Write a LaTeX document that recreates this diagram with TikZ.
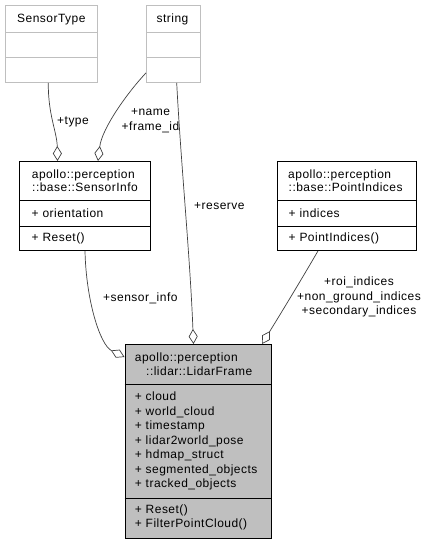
\documentclass[tikz,border=0pt]{standalone}
\usepackage{fontspec}
\setmainfont{Liberation Sans}[LetterSpace=4]
\usetikzlibrary{arrows.meta}
\definecolor{edgegray}{HTML}{404040}
\definecolor{boxgray}{HTML}{BFBFBF}
\tikzset{
  umlbox/.style={draw=black, line width=0.9pt, fill=white, inner sep=0pt, anchor=north west},
  ghostbox/.style={draw=boxgray, line width=0.9pt, fill=white, inner sep=0pt, anchor=north west},
  divider/.style={draw=black, line width=0.9pt},
  ghostdiv/.style={draw=boxgray, line width=0.9pt},
  txt/.style={anchor=base west, inner sep=0pt, font=\fontsize{12}{14.5}\selectfont},
  ctxt/.style={anchor=base, inner sep=0pt, font=\fontsize{12}{14.5}\selectfont},
  lbl/.style={anchor=center, align=center, inner sep=0pt, font=\fontsize{12}{14.5}\selectfont},
  assoc/.style={draw=edgegray, line width=0.7pt, -{Diamond[fill=white,length=15pt,width=9pt,line width=0.7pt]}}
}
\begin{document}
\begin{tikzpicture}[x=1pt,y=-1pt]
\useasboundingbox (0,0) rectangle (427,544);

% ghost classes
\node[ghostbox, minimum width=92, minimum height=77] (st) at (5,5) {};
\draw[ghostdiv] (st.west |- 0,32) -- (st.east |- 0,32);
\draw[ghostdiv] (st.west |- 0,57) -- (st.east |- 0,57);
\node[ctxt] (stname) at (51.3,22.5) {SensorType};

\node[ghostbox, minimum width=54, minimum height=77] (str) at (146,5) {};
\draw[ghostdiv] (str.west |- 0,32) -- (str.east |- 0,32);
\draw[ghostdiv] (str.west |- 0,57) -- (str.east |- 0,57);
\node[ctxt] (strname) at (172.5,22.5) {string};

% SensorInfo
\node[umlbox, minimum width=131, minimum height=89] (si) at (19,161) {};
\draw[divider] (si.west |- 0,200.5) -- (si.east |- 0,200.5);
\draw[divider] (si.west |- 0,226) -- (si.east |- 0,226);
\node[txt] (si1) at (31.7,178) {apollo::perception};
\node[txt] (si2) at (32,191.5) {::base::SensorInfo};
\node[txt] (si3) at (31.5,217.5) {+ orientation};
\node[txt] (si4) at (31.5,241.5) {+ Reset()};

% PointIndices
\node[umlbox, minimum width=139, minimum height=89] (pi) at (277,161) {};
\draw[divider] (pi.west |- 0,200.5) -- (pi.east |- 0,200.5);
\draw[divider] (pi.west |- 0,226) -- (pi.east |- 0,226);
\node[txt] (pi1) at (288,178) {apollo::perception};
\node[txt] (pi2) at (288.5,191.5) {::base::PointIndices};
\node[txt] (pi3) at (288.5,217.5) {+ indices};
\node[txt] (pi4) at (288.5,241.5) {+ PointIndices()};

% LidarFrame
\node[umlbox, fill=boxgray, minimum width=146.5, minimum height=193.5] (lf) at (124.5,344) {};
\draw[divider] (lf.west |- 0,384) -- (lf.east |- 0,384);
\draw[divider] (lf.west |- 0,498.5) -- (lf.east |- 0,498.5);
\node[txt] (lf1) at (134.7,361) {apollo::perception};
\node[txt] (lf2) at (146,375) {::lidar::LidarFrame};
\node[txt] (lfa1) at (134.7,400.5) {+ cloud};
\node[txt] (lfa2) at (134.7,415) {+ world\_cloud};
\node[txt] (lfa3) at (134.7,429.5) {+ timestamp};
\node[txt] (lfa4) at (134.7,444) {+ lidar2world\_pose};
\node[txt] (lfa5) at (134.7,458.5) {+ hdmap\_struct};
\node[txt] (lfa6) at (134.7,473) {+ segmented\_objects};
\node[txt] (lfa7) at (134.7,487.5) {+ tracked\_objects};
\node[txt] (lfm1) at (134.7,513) {+ Reset()};
\node[txt] (lfm2) at (134.7,527.5) {+ FilterPointCloud()};

% connectors
\draw[assoc] ([xshift=43.3pt]st.south west) .. controls (48,115) and (57,132) .. ([xshift=38.5pt]si.north west);
\draw[assoc] ([yshift=10pt]str.south west) .. controls (128,92) and (102,128) .. ([xshift=79pt]si.north west);
\draw[assoc] ([xshift=30.7pt]str.south west) .. controls (181,165) and (190,255) .. ([xshift=69pt]lf.north west);
\draw[assoc] ([xshift=41pt]pi.south west) .. controls (300,282) and (278,318) .. ([xshift=137.5pt]lf.north west);
\draw[assoc] ([xshift=66pt]si.south west) .. controls (86,300) and (100,345) .. ([yshift=-13pt]lf.north west);

% connector labels
\node[txt] (ltype) at (57,124) {+type};
\node[lbl] (lname) at (150.5,120.5) {+name\\+frame\_id};
\node[txt] (lres) at (194,209) {+reserve};
\node[txt] (lsi) at (103,301) {+sensor\_info};
\node[lbl] (lpi) at (359,297) {+roi\_indices\\+non\_ground\_indices\\+secondary\_indices};
\end{tikzpicture}
\end{document}
